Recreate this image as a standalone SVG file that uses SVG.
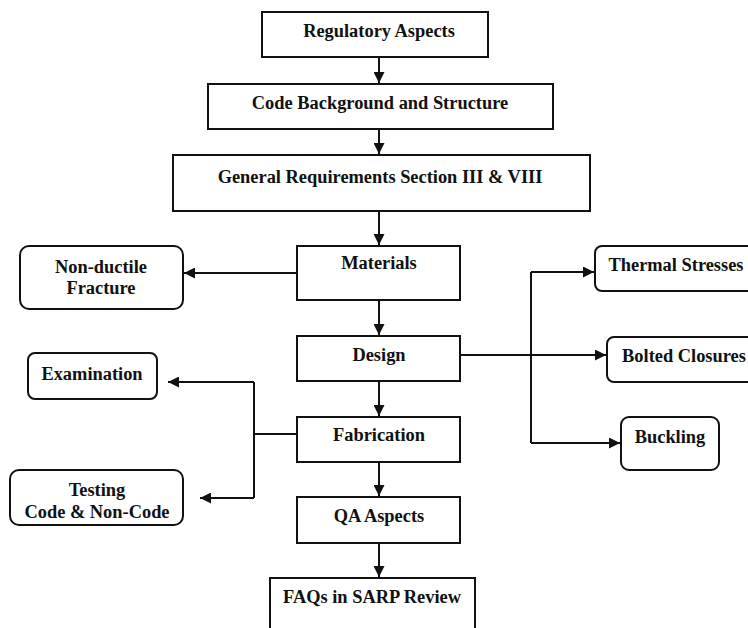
<svg xmlns="http://www.w3.org/2000/svg" width="748" height="628" viewBox="0 0 748 628">
<defs>
<marker id="ah" viewBox="0 0 10 10" refX="10" refY="5" markerWidth="12" markerHeight="11" markerUnits="userSpaceOnUse" orient="auto">
<path d="M0,0 L10,5 L0,10 z" fill="#111"/>
</marker>
<style>
.b{fill:#fff;stroke:#111;stroke-width:2}
.t{font-family:"Liberation Serif","Times New Roman",serif;font-weight:bold;font-size:18.4px;fill:#111;text-anchor:middle}
.c{fill:none;stroke:#111;stroke-width:2}
</style>
</defs>
<rect width="748" height="628" fill="#fff"/>
<g id="connectors">
<path class="c" d="M379,57 V83" marker-end="url(#ah)"/>
<path class="c" d="M379,129 V154" marker-end="url(#ah)"/>
<path class="c" d="M379,211 V245" marker-end="url(#ah)"/>
<path class="c" d="M379,300 V335" marker-end="url(#ah)"/>
<path class="c" d="M379,381 V416" marker-end="url(#ah)"/>
<path class="c" d="M379,462 V496" marker-end="url(#ah)"/>
<path class="c" d="M379,543 V577" marker-end="url(#ah)"/>
<path class="c" d="M297,273 H184" marker-end="url(#ah)"/>
<path class="c" d="M460,355 H606" marker-end="url(#ah)"/>
<path class="c" d="M531,272 V443"/>
<path class="c" d="M531,272 H594" marker-end="url(#ah)"/>
<path class="c" d="M531,443 H620" marker-end="url(#ah)"/>
<path class="c" d="M297,434 H254"/>
<path class="c" d="M254,382 V498"/>
<path class="c" d="M254,382 H168" marker-end="url(#ah)"/>
<path class="c" d="M254,498 H200" marker-end="url(#ah)"/>
</g>
<g id="regulatory"><rect class="b" x="262" y="12" width="226" height="45"/><text class="t" x="379" y="37">Regulatory Aspects</text></g>
<g id="code"><rect class="b" x="208" y="84" width="345" height="45"/><text class="t" x="380" y="109">Code Background and Structure</text></g>
<g id="general"><rect class="b" x="173" y="155" width="417" height="56"/><text class="t" x="380" y="183">General Requirements Section III &amp; VIII</text></g>
<g id="materials"><rect class="b" x="297" y="246" width="163" height="54"/><text class="t" x="379" y="269">Materials</text></g>
<g id="design"><rect class="b" x="297" y="336" width="163" height="45"/><text class="t" x="379" y="361">Design</text></g>
<g id="fabrication"><rect class="b" x="297" y="417" width="163" height="45"/><text class="t" x="379" y="441">Fabrication</text></g>
<g id="qa"><rect class="b" x="297" y="497" width="163" height="46"/><text class="t" x="379" y="522">QA Aspects</text></g>
<g id="faqs"><rect class="b" x="270" y="578" width="205" height="70"/><text class="t" x="372" y="603">FAQs in SARP Review</text></g>
<g id="nonductile"><rect class="b" x="20" y="246" width="163" height="63" rx="9"/><text class="t" x="101" y="273">Non-ductile</text><text class="t" x="101" y="294">Fracture</text></g>
<g id="examination"><rect class="b" x="28" y="353" width="129" height="46" rx="7"/><text class="t" x="92" y="380">Examination</text></g>
<g id="testing"><rect class="b" x="10" y="470" width="173" height="55" rx="9"/><text class="t" x="97" y="496">Testing</text><text class="t" x="97" y="518">Code &amp; Non-Code</text></g>
<g id="thermal"><rect class="b" x="595" y="246" width="165" height="45" rx="7"/><text class="t" x="676" y="271">Thermal Stresses</text></g>
<g id="bolted"><rect class="b" x="607" y="337" width="155" height="45" rx="7"/><text class="t" x="684" y="362">Bolted Closures</text></g>
<g id="buckling"><rect class="b" x="621" y="417" width="98" height="53" rx="8"/><text class="t" x="670" y="443">Buckling</text></g>
</svg>
